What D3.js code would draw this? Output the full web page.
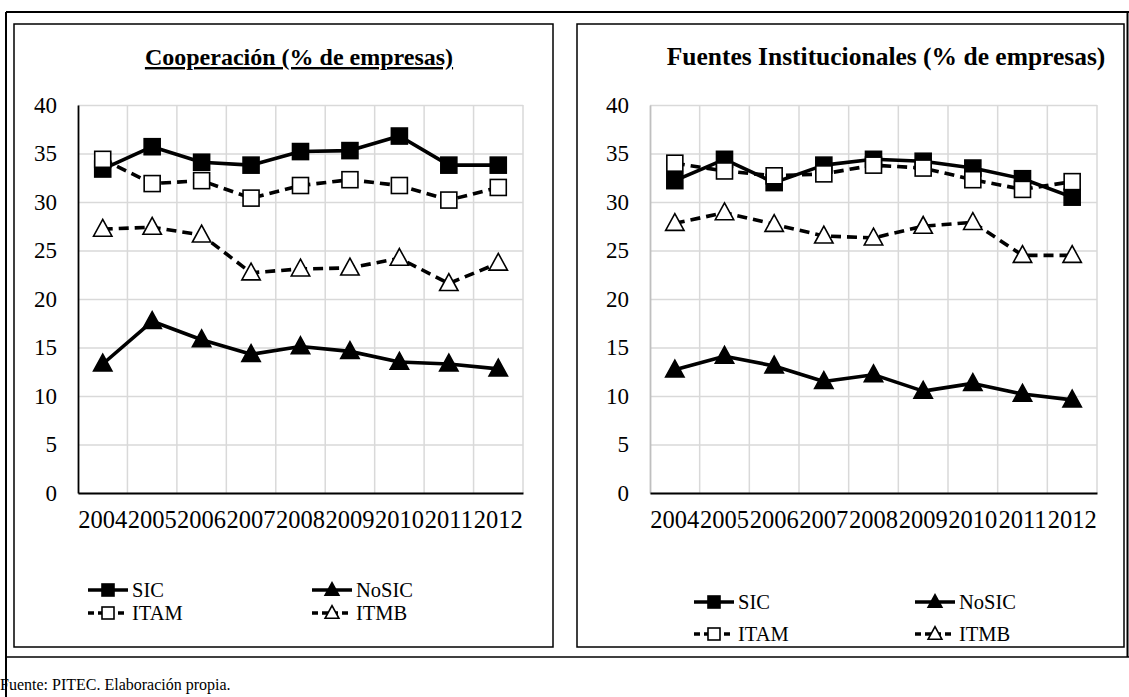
<!DOCTYPE html>
<html>
<head>
<meta charset="utf-8">
<script src="https://cdn.jsdelivr.net/npm/d3@7"></script>
<style>
  html, body { margin: 0; padding: 0; background: #fff; }
  svg text { font-family: "Liberation Serif", "Times New Roman", Times, serif !important; }
</style>
</head>
<body>
<svg id="chart" width="1129" height="697"></svg>
<script>
// Years on the category axis
const years = ["2004","2005","2006","2007","2008","2009","2010","2011","2012"];
const yTicks = [0, 5, 10, 15, 20, 25, 30, 35, 40];
const seriesNames = ["SIC", "NoSIC", "ITAM", "ITMB"];

// Cooperación (% de empresas)
const coopSIC   = [33.4, 35.7, 34.1, 33.8, 35.2, 35.3, 36.8, 33.8, 33.8];
const coopNoSIC = [13.3, 17.7, 15.8, 14.3, 15.1, 14.6, 13.5, 13.3, 12.8];
const coopITAM  = [34.4, 31.9, 32.2, 30.4, 31.7, 32.3, 31.7, 30.2, 31.5];
const coopITMB  = [27.2, 27.4, 26.6, 22.7, 23.1, 23.2, 24.2, 21.6, 23.7];

// Fuentes Institucionales (% de empresas)
const fuenSIC   = [32.2, 34.4, 32.0, 33.8, 34.4, 34.2, 33.5, 32.4, 30.5];
const fuenNoSIC = [12.7, 14.1, 13.1, 11.5, 12.2, 10.5, 11.3, 10.2, 9.6];
const fuenITAM  = [34.0, 33.2, 32.7, 32.9, 33.8, 33.5, 32.3, 31.3, 32.1];
const fuenITMB  = [27.8, 28.9, 27.7, 26.5, 26.3, 27.5, 27.9, 24.5, 24.5];

const svg = d3.select("#chart");

// Series styling: line dash and marker shape/fill
const style = {
  SIC:   { dash: null,   shape: "square",   fill: "#000" },
  NoSIC: { dash: null,   shape: "triangle", fill: "#000" },
  ITAM:  { dash: "10,6", shape: "square",   fill: "#fff" },
  ITMB:  { dash: "10,6", shape: "triangle", fill: "#fff" }
};

function drawMarker(g, shape, fill, x, y, size) {
  if (shape === "square") {
    g.append("rect")
      .attr("x", x - size / 2).attr("y", y - size / 2)
      .attr("width", size).attr("height", size)
      .attr("fill", fill).attr("stroke", "#000").attr("stroke-width", 1.6);
  } else {
    const w = size * 1.15, h = size * 1.05;
    g.append("path")
      .attr("d", `M${x},${y - h * 0.58}L${x + w / 2},${y + h * 0.42}L${x - w / 2},${y + h * 0.42}Z`)
      .attr("fill", fill).attr("stroke", "#000").attr("stroke-width", 1.6)
      .attr("stroke-linejoin", "miter");
  }
}

// Outer frame and footer separator
svg.append("line").attr("x1", 6).attr("x2", 1129).attr("y1", 12).attr("y2", 12)
  .attr("stroke", "#000").attr("stroke-width", 2);
svg.append("line").attr("x1", 6).attr("x2", 6).attr("y1", 12).attr("y2", 697)
  .attr("stroke", "#000").attr("stroke-width", 2);
svg.append("line").attr("x1", 1127.5).attr("x2", 1127.5).attr("y1", 12).attr("y2", 657)
  .attr("stroke", "#000").attr("stroke-width", 2);
svg.append("line").attr("x1", 6).attr("x2", 1129).attr("y1", 657).attr("y2", 657)
  .attr("stroke", "#000").attr("stroke-width", 1.5);
svg.append("text").attr("x", 0).attr("y", 690)
  .attr("font-size", 16).attr("fill", "#000")
  .text("Fuente: PITEC. Elaboración propia.");

const panels = [
  {
    title: "Cooperación (% de empresas)", underline: true, titleSize: 24,
    box: [14, 24, 553, 647], plot: [78, 105, 523, 493], yAxisColor: "#000",
    titleX: 299,
    data: { SIC: coopSIC, NoSIC: coopNoSIC, ITAM: coopITAM, ITMB: coopITMB },
    legend: { rows: [590, 613], cols: [88, 312] }
  },
  {
    title: "Fuentes Institucionales (% de empresas)", underline: false, titleSize: 25.5,
    box: [577, 24, 1124, 647], plot: [650, 105, 1097, 493], yAxisColor: "#bfbfbf",
    titleX: 886,
    data: { SIC: fuenSIC, NoSIC: fuenNoSIC, ITAM: fuenITAM, ITMB: fuenITMB },
    legend: { rows: [602, 634], cols: [694, 915] }
  }
];

panels.forEach(p => {
  const [bx0, by0, bx1, by1] = p.box;
  const [px0, py0, px1, py1] = p.plot;

  svg.append("rect").attr("x", bx0).attr("y", by0)
    .attr("width", bx1 - bx0).attr("height", by1 - by0)
    .attr("fill", "#fff").attr("stroke", "#000").attr("stroke-width", 1.5);

  // Title
  const title = svg.append("text")
    .attr("x", p.titleX).attr("y", 65)
    .attr("text-anchor", "middle")
    .attr("font-size", p.titleSize).attr("font-weight", "bold").attr("fill", "#000")
    .text(p.title);
  if (p.underline) title.attr("text-decoration", "underline");

  const x = d3.scaleBand().domain(years).range([px0, px1]).padding(0);
  const y = d3.scaleLinear().domain([0, 40]).range([py1, py0]);

  const g = svg.append("g");

  // Horizontal gridlines
  g.append("g").attr("transform", `translate(${px0},0)`)
    .call(d3.axisLeft(y).tickValues(yTicks).tickSize(-(px1 - px0)).tickFormat(""))
    .call(a => a.select(".domain").remove())
    .call(a => a.selectAll("line").attr("stroke", "#d9d9d9").attr("stroke-width", 1.5));

  // Vertical gridlines at category boundaries
  const bounds = years.map(d => x(d)).concat([px1]);
  g.append("g").selectAll("line").data(bounds.slice(1)).join("line")
    .attr("x1", d => d).attr("x2", d => d).attr("y1", py0).attr("y2", py1)
    .attr("stroke", "#d9d9d9").attr("stroke-width", 1.5);

  // Y axis
  const yAxis = g.append("g").attr("transform", `translate(${px0},0)`)
    .call(d3.axisLeft(y).tickValues(yTicks).tickSize(0).tickPadding(21));
  yAxis.select(".domain").attr("stroke", p.yAxisColor).attr("stroke-width", 1.8);
  yAxis.selectAll("text").attr("font-size", 23).attr("fill", "#000");

  // X axis
  const xAxis = g.append("g").attr("transform", `translate(0,${py1})`)
    .call(d3.axisBottom(x).tickSize(0).tickPadding(18));
  xAxis.select(".domain").attr("stroke", "#000").attr("stroke-width", 2.2);
  xAxis.selectAll("text").attr("font-size", 24.5).attr("fill", "#000");

  // Series lines and markers
  const line = d3.line()
    .x((d, i) => x(years[i]) + x.bandwidth() / 2)
    .y(d => y(d));

  seriesNames.forEach(name => {
    const s = style[name];
    const vals = p.data[name];
    const sg = g.append("g");
    sg.append("path").datum(vals)
      .attr("d", line).attr("fill", "none")
      .attr("stroke", "#000").attr("stroke-width", 3.6)
      .attr("stroke-dasharray", s.dash)
      .attr("stroke-linejoin", "round");
    vals.forEach((v, i) => {
      drawMarker(sg, s.shape, s.fill, x(years[i]) + x.bandwidth() / 2, y(v), 16);
    });
  });

  // Legend
  seriesNames.forEach((name, k) => {
    const s = style[name];
    const ly = p.legend.rows[Math.floor(k / 2)];
    const lx = p.legend.cols[k % 2];
    const lg = svg.append("g");
    lg.append("line").attr("x1", lx).attr("x2", lx + 40).attr("y1", ly).attr("y2", ly)
      .attr("stroke", "#000").attr("stroke-width", 3.6)
      .attr("stroke-dasharray", s.dash ? "6,4" : null);
    drawMarker(lg, s.shape, s.fill, lx + 20, ly, 12);
    lg.append("text").attr("x", lx + 44).attr("y", ly + 7)
      .attr("font-size", 20.5).attr("fill", "#000").text(name);
  });
});
</script>
</body>
</html>
